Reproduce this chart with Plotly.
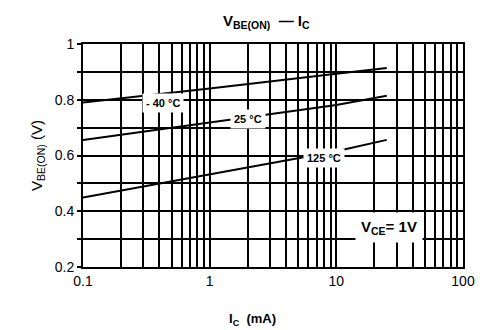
import math
import plotly.graph_objects as go

# collector current (mA) and V_BE(ON) (V)
ic = [0.1, 1, 10, 25]
vbe_m40 = [0.79, 0.84, 0.893, 0.914]
vbe_25 = [0.656, 0.718, 0.781, 0.814]
vbe_125 = [0.449, 0.532, 0.615, 0.656]

curve_labels = ["- 40 °C", "25 °C", "125 °C"]
label_pos = [(0.43, 0.788), (2.0, 0.73), (8.0, 0.592)]
vce_label_pos = (26, 0.34)

x_ticks = [0.1, 1, 10, 100]
x_ticktext = ["0.1", "1", "10", "100"]
y_ticks = [0.2, 0.4, 0.6, 0.8, 1]
y_ticktext = ["0.2", "0.4", "0.6", "0.8", "1"]
x_minor = [m * d for d in [0.1, 1, 10] for m in range(2, 10)]
y_minor = [0.3, 0.5, 0.7, 0.9]

fig = go.Figure()
for v in [vbe_m40, vbe_25, vbe_125]:
    fig.add_trace(go.Scatter(x=ic, y=v, mode="lines",
                             line=dict(color="black", width=2), showlegend=False))

# annotations on a log axis take log10 positions
for txt, (lx, ly) in zip(curve_labels, label_pos):
    fig.add_annotation(x=math.log10(lx), y=ly, xref="x", yref="y",
                       text="<b>" + txt + "</b>",
                       showarrow=False, bgcolor="white", borderpad=3,
                       font=dict(size=11, color="black"))

fig.add_annotation(x=math.log10(vce_label_pos[0]), y=vce_label_pos[1], xref="x", yref="y",
                   text="<b>V<sub>CE</sub>= 1V</b>", showarrow=False,
                   bgcolor="white", borderpad=5, font=dict(size=15, color="black"))

fig.add_annotation(x=0.483, y=1.0, xref="paper", yref="paper", yanchor="bottom",
                   yshift=11, text="<b>V<sub>BE(ON)</sub>  — I<sub>C</sub></b>",
                   showarrow=False, font=dict(size=15, color="black"))
fig.add_annotation(x=-0.15, y=0.5, xref="paper", yref="paper", textangle=-90,
                   text="V<sub>BE(ON)</sub> (V)", showarrow=False,
                   font=dict(size=15, color="black"))
fig.add_annotation(x=0.447, y=-0.235, xref="paper", yref="paper", yanchor="middle",
                   text="<b>I<sub>C</sub>  (mA)</b>", showarrow=False,
                   font=dict(size=13, color="black"))

fig.update_xaxes(type="log", range=[-1, 2], tickvals=x_ticks, ticktext=x_ticktext,
                 showgrid=True, gridcolor="black", gridwidth=2,
                 showline=True, linecolor="black", linewidth=2, mirror=True,
                 ticks="", tickfont=dict(size=14, color="black"),
                 minor=dict(tickvals=x_minor, showgrid=True, gridcolor="black",
                            gridwidth=2, ticks=""))
fig.update_yaxes(range=[0.2, 1], tickvals=y_ticks, ticktext=y_ticktext,
                 showgrid=True, gridcolor="black", gridwidth=2, zeroline=False,
                 showline=True, linecolor="black", linewidth=2, mirror=True,
                 ticks="outside", ticklen=4, tickcolor="black", tickwidth=2,
                 tickfont=dict(size=14, color="black"),
                 minor=dict(tickvals=y_minor, showgrid=True, gridcolor="black",
                            gridwidth=2, ticks="outside", ticklen=4,
                            tickcolor="black"))

# page body has an 8px margin, so the figure is sized to fit inside the window
fig.update_layout(width=479, height=322, margin=dict(l=75, r=17, t=36, b=63),
                  plot_bgcolor="white", paper_bgcolor="white",
                  font=dict(family="Liberation Sans, Arial, sans-serif"))

fig.write_html("out.html")
